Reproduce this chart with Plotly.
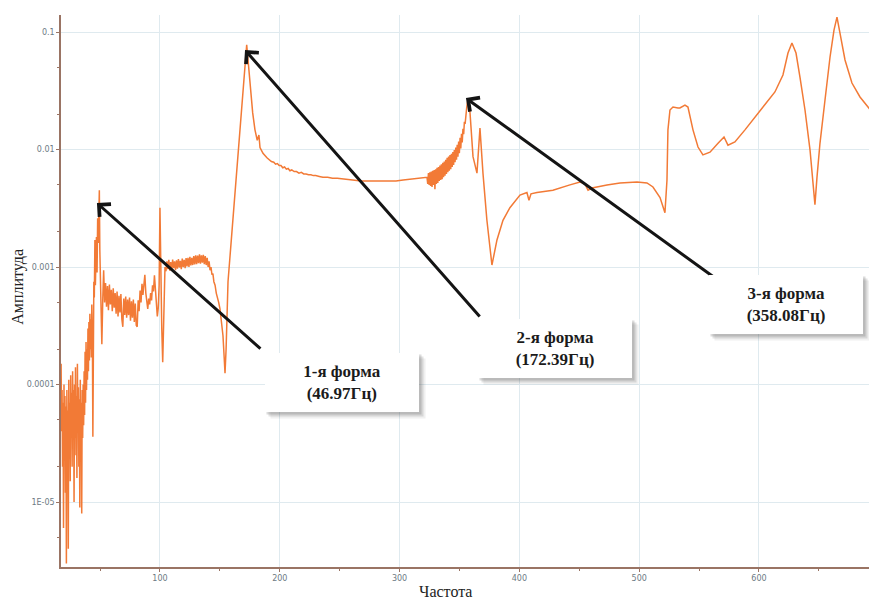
import numpy as np
import plotly.graph_objects as go

# ---------------- data ----------------
# frequency (Hz), amplitude pairs, grouped by spectral segment
seg_low = [  # 17-53 Hz noisy region with 1st mode
    (17.5, 1.5e-4), (17.9, 4.0e-5), (18.3, 9.0e-5), (18.7, 2.0e-5), (19.1, 7.0e-5),
    (19.5, 6.0e-6), (19.9, 1.0e-4), (20.3, 3.0e-5), (20.7, 8.0e-5), (21.1, 1.2e-5),
    (21.5, 6.5e-5), (21.9, 3.0e-6), (22.3, 9.0e-5), (22.7, 2.5e-5), (23.1, 6.0e-5),
    (23.5, 4.0e-6), (23.9, 1.1e-4), (24.3, 3.0e-5), (24.7, 7.0e-5), (25.1, 1.5e-5),
    (25.5, 1.2e-4), (25.9, 3.5e-5), (26.3, 8.5e-5), (26.7, 2.0e-5), (27.1, 1.3e-4),
    (27.5, 4.0e-5), (27.9, 9.0e-5), (28.3, 1.0e-5), (28.7, 1.0e-4), (29.1, 3.5e-5),
    (29.5, 1.4e-4), (29.9, 2.5e-5), (30.3, 8.0e-5), (30.7, 1.6e-5), (31.1, 1.5e-4),
    (31.5, 4.0e-5), (31.9, 9.5e-5), (32.3, 2.0e-5), (32.7, 7.5e-5), (33.1, 9.0e-6),
    (33.5, 1.1e-4), (33.9, 3.0e-5), (34.3, 7.0e-5), (34.7, 8.0e-6), (35.1, 9.0e-5),
    (35.5, 3.5e-5), (35.9, 1.0e-4), (36.3, 4.5e-5), (36.7, 1.3e-4), (37.1, 5.5e-5),
    (37.5, 1.9e-4), (37.9, 7.0e-5), (38.3, 2.3e-4), (38.7, 9.0e-5), (39.1, 2.0e-4),
    (39.5, 1.1e-4), (39.9, 3.0e-4), (40.3, 1.3e-4), (40.7, 3.4e-4), (41.1, 1.6e-4),
    (41.5, 4.0e-4), (41.9, 2.0e-4), (42.3, 3.6e-4), (42.7, 1.7e-4), (43.1, 4.8e-4),
    (43.6, 2.5e-4), (44.0, 3.6e-5), (44.4, 5.0e-4), (44.8, 7.5e-4), (45.2, 5.5e-4),
    (45.7, 1.7e-3), (46.1, 7.0e-4), (46.6, 1.3e-3), (47.0, 1.8e-3), (47.5, 9.0e-4),
    (48.0, 2.6e-3), (48.5, 1.6e-3), (49.0, 3.8e-3), (49.4, 4.5e-3), (49.8, 1.4e-3),
    (50.5, 4.5e-4), (51.5, 2.2e-4), (52.3, 5.5e-4), (53.0, 9.4e-4),
]
seg_mid = [  # 53-104 Hz band with 100 Hz spike
    (53.8, 5.0e-4), (54.6, 7.3e-4), (55.4, 4.6e-4), (56.2, 6.9e-4), (57.0, 4.3e-4),
    (57.8, 7.1e-4), (58.6, 4.8e-4), (59.4, 6.4e-4), (60.2, 4.2e-4), (61.0, 6.6e-4),
    (61.8, 4.5e-4), (62.6, 6.0e-4), (63.4, 4.0e-4), (64.2, 6.2e-4), (65.0, 3.8e-4),
    (65.8, 5.7e-4), (66.6, 4.1e-4), (67.4, 5.9e-4), (68.2, 3.6e-4), (69.0, 3.1e-4),
    (69.8, 5.4e-4), (70.6, 3.9e-4), (71.4, 5.6e-4), (72.2, 3.7e-4), (73.0, 5.3e-4),
    (73.8, 3.9e-4), (74.6, 5.5e-4), (75.4, 3.5e-4), (76.2, 5.1e-4), (77.0, 3.7e-4),
    (77.8, 5.3e-4), (78.6, 3.4e-4), (79.4, 4.9e-4), (80.2, 3.2e-4), (81.0, 3.1e-4),
    (81.8, 5.2e-4), (82.6, 4.2e-4), (83.4, 6.3e-4), (84.2, 5.0e-4), (85.0, 7.2e-4),
    (85.8, 5.8e-4), (86.6, 8.0e-4), (87.4, 8.6e-4), (88.2, 6.0e-4), (89.0, 5.0e-4),
    (89.8, 4.4e-4), (90.6, 5.4e-4), (91.4, 4.8e-4), (92.2, 6.0e-4), (93.0, 5.2e-4),
    (93.8, 7.0e-4), (94.6, 6.2e-4), (95.4, 8.5e-4), (96.2, 6.5e-4), (97.0, 4.8e-4),
    (97.8, 3.8e-4), (98.6, 4.5e-4), (99.3, 7.0e-4), (100.0, 3.2e-3), (100.7, 9.0e-4),
    (101.5, 3.0e-4), (102.3, 1.55e-4), (103.2, 5.5e-4), (104.2, 1.0e-3),
]
seg_plateau = [  # 104-172 Hz plateau, antiresonance and 2nd mode
    (105.0, 9.2e-4), (105.8, 1.12e-3), (106.6, 9.6e-4), (107.4, 1.15e-3), (108.2, 9.3e-4),
    (109.0, 1.10e-3), (109.8, 9.5e-4), (110.6, 1.16e-3), (111.4, 9.8e-4), (112.2, 1.12e-3),
    (113.0, 9.4e-4), (113.8, 1.14e-3), (114.6, 9.7e-4), (115.4, 1.17e-3), (116.2, 9.9e-4),
    (117.0, 1.13e-3), (117.8, 9.6e-4), (118.6, 1.18e-3), (119.4, 1.00e-3), (120.2, 1.15e-3),
    (121.0, 9.8e-4), (121.8, 1.19e-3), (122.6, 1.01e-3), (123.4, 1.20e-3), (124.2, 1.00e-3),
    (125.0, 1.22e-3), (125.8, 1.03e-3), (126.6, 1.20e-3), (127.4, 1.04e-3), (128.2, 1.24e-3),
    (129.0, 1.05e-3), (129.8, 1.26e-3), (130.6, 1.06e-3), (131.4, 1.25e-3), (132.2, 1.08e-3),
    (133.0, 1.28e-3), (133.8, 1.07e-3), (134.6, 1.26e-3), (135.4, 1.09e-3), (136.2, 1.27e-3),
    (137.0, 1.06e-3), (137.8, 1.24e-3), (138.6, 1.04e-3), (139.4, 1.20e-3), (140.2, 1.00e-3),
    (141.0, 1.12e-3), (141.8, 9.4e-4), (142.6, 1.00e-3), (143.4, 8.6e-4), (144.2, 8.8e-4),
    (145.0, 7.5e-4), (146.0, 7.0e-4), (147.0, 6.0e-4), (148.0, 5.6e-4), (149.0, 5.0e-4),
    (150.1, 4.4e-4), (151.2, 3.5e-4), (152.6, 2.6e-4), (153.6, 1.7e-4), (154.3, 1.25e-4),
    (155.2, 2.0e-4), (156.8, 7.5e-4), (172.4, 0.078),
]
seg_decay = [  # 172-323 Hz decay after 2nd mode
    (173.7, 0.0545), (175.1, 0.034), (177.4, 0.0205), (179.3, 0.0147), (181.2, 0.0120),
    (182.6, 0.0133), (183.5, 0.0104), (186.0, 0.0093), (189.3, 0.0085), (193.0, 0.0079),
    (195.0, 0.0078), (196.5, 0.0075), (198.0, 0.0076), (199.5, 0.0073), (201.0, 0.0073),
    (202.5, 0.0070), (204.0, 0.0071), (205.5, 0.0068), (207.0, 0.0069), (208.5, 0.0066),
    (210.0, 0.0067), (212.0, 0.0065), (214.0, 0.0065), (216.0, 0.0063), (218.0, 0.0064),
    (220.0, 0.0062), (222.0, 0.0062), (224.0, 0.0061), (226.0, 0.0061), (228.0, 0.0060),
    (230.0, 0.0060), (233.0, 0.0059), (236.0, 0.0058), (240.0, 0.0058), (244.0, 0.0057),
    (248.0, 0.0057), (255.0, 0.0056), (261.0, 0.0055), (268.0, 0.0054), (275.0, 0.0054),
    (282.0, 0.0054), (290.0, 0.0054), (297.0, 0.0054), (303.0, 0.0055), (310.0, 0.0056),
    (317.0, 0.0057), (322.9, 0.0058),
]
seg_third = [  # 323-357 Hz noisy rise to 3rd mode
    (323.5, 0.0051), (324.1, 0.0063), (324.7, 0.0050), (325.3, 0.0064), (325.9, 0.0049),
    (326.5, 0.0065), (327.1, 0.0048), (327.7, 0.0066), (328.3, 0.0050), (328.9, 0.0067),
    (329.5, 0.0046), (330.1, 0.0068), (330.7, 0.0051), (331.3, 0.0070), (331.9, 0.0052),
    (332.5, 0.0071), (333.1, 0.0054), (333.7, 0.0073), (334.3, 0.0055), (334.9, 0.0075),
    (335.5, 0.0056), (336.1, 0.0077), (336.7, 0.0058), (337.3, 0.0079), (337.9, 0.0060),
    (338.5, 0.0082), (339.1, 0.0062), (339.7, 0.0085), (340.3, 0.0064), (340.9, 0.0087),
    (341.5, 0.0066), (342.1, 0.0090), (342.7, 0.0068), (343.3, 0.0092), (343.9, 0.0071),
    (344.5, 0.0095), (345.1, 0.0074), (345.7, 0.0099), (346.3, 0.0078), (346.9, 0.0104),
    (347.5, 0.0082), (348.1, 0.0110), (348.7, 0.0087), (349.3, 0.0117), (349.9, 0.0093),
    (350.5, 0.0126), (351.1, 0.0102), (351.7, 0.0136), (352.3, 0.0115), (352.9, 0.0150),
    (353.5, 0.0135), (354.1, 0.0172), (354.7, 0.0165), (355.3, 0.0200), (356.0, 0.0225),
    (356.7, 0.0255), (357.3, 0.0270),
]
seg_high = [  # 358-699 Hz upper part
    (358.8, 0.0205), (361.3, 0.0087), (364.6, 0.0063), (367.1, 0.0152), (369.6, 0.0063),
    (372.9, 0.0025), (377.1, 0.00104), (381.3, 0.0017), (386.3, 0.0025), (392.1, 0.0032),
    (400.5, 0.0041), (406.3, 0.0043), (408.0, 0.0037), (409.7, 0.0042), (414.7, 0.0043),
    (428.0, 0.0045), (442.2, 0.0050), (450.6, 0.0053), (454.7, 0.0051), (457.3, 0.0045),
    (460.6, 0.0047), (464.8, 0.0048), (473.1, 0.0050), (484.0, 0.0052), (498.2, 0.0053),
    (506.5, 0.0052), (511.5, 0.0048), (517.4, 0.0039), (519.9, 0.0032), (521.5, 0.0029),
    (523.2, 0.0055), (524.0, 0.0147), (525.7, 0.0217), (528.2, 0.0230), (532.4, 0.0226),
    (534.0, 0.0226), (538.2, 0.0239), (540.7, 0.0230), (544.9, 0.0147), (549.1, 0.0105),
    (553.2, 0.0090), (559.1, 0.0095), (565.8, 0.0113), (570.8, 0.0128), (574.1, 0.0109),
    (579.9, 0.0116), (588.3, 0.0147), (596.6, 0.0189), (605.0, 0.0239), (613.3, 0.0309),
    (620.0, 0.0431), (624.2, 0.0663), (627.5, 0.0806), (630.9, 0.0663), (634.2, 0.0414),
    (638.4, 0.0217), (642.6, 0.0099), (645.1, 0.0052), (646.7, 0.0034), (648.4, 0.0058),
    (650.9, 0.0113), (655.1, 0.0264), (659.3, 0.0613), (662.6, 0.104), (665.1, 0.134),
    (667.6, 0.098), (671.8, 0.0578), (677.6, 0.0368), (684.3, 0.0280), (691.0, 0.0230),
    (698.5, 0.0185),
]

y_tick_vals = [1e-5, 1e-4, 1e-3, 1e-2, 1e-1]
y_tick_text = ["1E-05", "0.0001", "0.001", "0.01", "0.1"]
x_tick_vals = [100, 200, 300, 400, 500, 600]
x_tick_text = ["100", "200", "300", "400", "500", "600"]

mode_labels = ["1-я форма<br>(46.97Гц)", "2-я форма<br>(172.39Гц)", "3-я форма<br>(358.08Гц)"]

# ---------------- figure ----------------
pts = seg_low + seg_mid + seg_plateau + seg_decay + seg_third + seg_high
freq = [p[0] for p in pts]
amp = [p[1] for p in pts]

fig = go.Figure()
fig.add_trace(go.Scatter(x=freq, y=amp, mode="lines",
                         line=dict(color="#f27a36", width=1.5), showlegend=False))

axis_col = "#9a7464"
tick_font = dict(family="DejaVu Sans", size=8, color="#6d7a84")
grid_col = "#dfeaef"

fig.update_xaxes(range=[17.4, 698.5], tickmode="array", tickvals=x_tick_vals,
                 ticktext=x_tick_text, tickfont=tick_font, showgrid=True,
                 gridcolor=grid_col, gridwidth=1, zeroline=False, showline=True,
                 linecolor=axis_col, linewidth=1.5, ticks="outside", ticklen=3,
                 tickcolor=axis_col,
                 minor=dict(dtick=50, ticks="outside", ticklen=2, tickcolor=axis_col,
                            showgrid=False))
fig.update_yaxes(type="log", range=[-5.553, -0.855], tickmode="array",
                 tickvals=y_tick_vals, ticktext=y_tick_text, tickfont=tick_font,
                 showgrid=True, gridcolor=grid_col, gridwidth=1, zeroline=False,
                 showline=True, linecolor=axis_col, linewidth=1.5, ticks="outside",
                 ticklen=3, tickcolor=axis_col,
                 minor=dict(dtick="D2", ticks="outside", ticklen=2, tickcolor=axis_col,
                            showgrid=False))

ann = []
serif = "Liberation Serif"
# axis titles
ann.append(dict(text="Частота", xref="paper", yref="paper", x=0.4706, y=-0.0435,
                xanchor="center", yanchor="middle", showarrow=False,
                font=dict(family=serif, size=16, color="#222222")))
ann.append(dict(text="Амплитуда", xref="paper", yref="paper", x=-0.052, y=0.507,
                xanchor="center", yanchor="middle", textangle=-90, showarrow=False,
                font=dict(family=serif, size=16, color="#222222")))
# partial 700 tick label at right edge
ann.append(dict(text="700", xref="paper", yref="paper", x=1.0025, y=0, yshift=-3,
                xanchor="center", yanchor="top", showarrow=False, font=tick_font))

# arrows (head at data point, tail offset in pixels)
arrows = [
    (47.4, -2.455, 165, 147),
    (171.0, -1.153, 236, 268),
    (355.4, -1.562, 252, 182),
]
for hx, hy, dx, dy in arrows:
    ann.append(dict(text="", x=hx, y=hy, xref="x", yref="y", ax=dx, ay=dy,
                    showarrow=True, arrowhead=4, arrowsize=1.1, arrowwidth=3,
                    arrowcolor="#141414", standoff=0, startstandoff=0))

# label boxes with shadow
boxes = [(0.3444, 0.3351), (0.6054, 0.3967), (0.8885, 0.4764)]
for (bx, by), label in zip(boxes, mode_labels):
    for off, alpha in [(6, 0.08), (4, 0.14), (2, 0.18)]:
        ann.append(dict(text=" ", xref="paper", yref="paper", x=bx, y=by,
                        xshift=off, yshift=-off, xanchor="center", yanchor="middle",
                        width=152, height=57, bgcolor=f"rgba(60,60,60,{alpha})",
                        showarrow=False, font=dict(size=10)))
    ann.append(dict(text="<b>" + label.replace("<br>", "</b><br><b>") + "</b>",
                    xref="paper", yref="paper", x=bx, y=by, xanchor="center",
                    yanchor="middle", width=152, height=57, bgcolor="white",
                    borderwidth=0, showarrow=False,
                    font=dict(family=serif, size=17, color="#1b1b1b")))

# the page body has an 8px margin, so the figure is shrunk to keep the plot
# area where it sits in the reference screenshot
fig.update_layout(width=869, height=590, margin=dict(l=53, r=0, t=7, b=31),
                  paper_bgcolor="white", plot_bgcolor="white", annotations=ann,
                  showlegend=False)

fig.write_html("out.html")
